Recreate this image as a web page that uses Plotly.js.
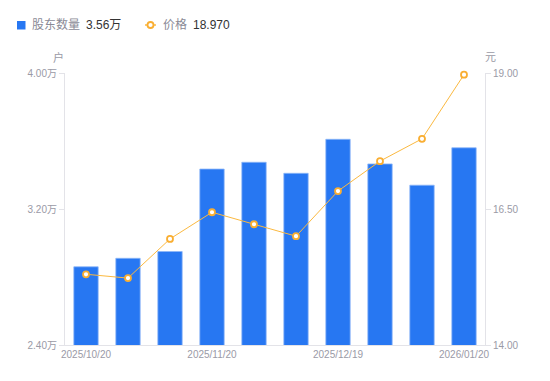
<!DOCTYPE html>
<html>
<head>
<meta charset="utf-8">
<script src="https://cdn.plot.ly/plotly-3.0.1.min.js"></script>
<style>html,body{margin:0;padding:0;background:#fff;}#chart{width:550px;height:381px;}</style>
</head>
<body>
<div id="chart"></div>
<script>
var dates = ["2025/10/20","2025/10/31","2025/11/10","2025/11/20","2025/11/28","2025/12/10","2025/12/19","2025/12/31","2026/01/09","2026/01/20"];
var holders = [2.86, 2.91, 2.95, 3.435, 3.475, 3.41, 3.61, 3.465, 3.34, 3.56];
var prices = [15.30, 15.23, 15.95, 16.44, 16.22, 16.00, 16.83, 17.38, 17.79, 18.97];
var xTickLabels = ["2025/10/20","2025/11/20","2025/12/19","2026/01/20"];
var leftTicks = [2.40, 3.20, 4.00];
var rightTicks = [14.00, 16.50, 19.00];

var font = "'Liberation Sans', Arial, 'Noto Sans CJK SC', sans-serif";
var grey = "#9a9aa6";
var barColor = "#2777f2";
var lineColor = "#fbb940";
var lastH = holders[holders.length-1].toFixed(2) + "万";
var lastP = prices[prices.length-1].toFixed(3);

// pixel helpers for decoration positions (plot area 65..485 x, 73..345 y)
function px(x){ return (x - 65) / 420; }
function py(y){ return (345 - y) / 272; }

var traces = [
  {
    type: "bar", x: dates, y: holders, name: "股东数量",
    marker: {color: barColor, line: {color: "#8db6f7", width: 0.8}}, yaxis: "y", hoverinfo: "skip"
  },
  {
    type: "scatter", mode: "lines+markers", x: dates, y: prices, yaxis: "y2",
    name: "价格", cliponaxis: false,
    line: {color: lineColor, width: 1},
    marker: {symbol: "circle", size: 6, color: "#ffffff", line: {color: "#f9ae32", width: 1.8}},
    hoverinfo: "skip"
  }
];

var ann = function(text, x, y, color, size, anchor){
  return {text: text, xref: "paper", yref: "paper", x: px(x), y: py(y), xanchor: anchor || "left", yanchor: "middle",
          showarrow: false, font: {family: font, size: size, color: color}};
};

var layout = {
  width: 550, height: 381,
  margin: {l: 65, r: 65, t: 73, b: 36},
  paper_bgcolor: "#fff", plot_bgcolor: "#fff",
  font: {family: font, size: 10, color: grey},
  bargap: 0.42,
  showlegend: false,
  xaxis: {
    type: "category", range: [-0.5, dates.length - 0.5], tickmode: "array", tickvals: xTickLabels, ticktext: xTickLabels,
    showline: true, linecolor: "#e3e3e8", linewidth: 1, showgrid: false, zeroline: false,
    ticks: "", tickfont: {size: 10, color: grey}, fixedrange: true
  },
  yaxis: {
    range: [2.4, 4.0], tickmode: "array", tickvals: leftTicks,
    ticktext: leftTicks.map(function(v){return v.toFixed(2) + "万";}),
    showline: true, linecolor: "#e3e3e8", showgrid: false, zeroline: false,
    ticks: "outside", ticklen: 5, tickcolor: "#e3e3e8",
    tickfont: {size: 10, color: grey}
  },
  yaxis2: {
    range: [14, 19], overlaying: "y", side: "right", tickmode: "array", tickvals: rightTicks,
    ticktext: rightTicks.map(function(v){return v.toFixed(2);}),
    showline: true, linecolor: "#e3e3e8", showgrid: false, zeroline: false,
    ticks: "outside", ticklen: 5, tickcolor: "#e3e3e8",
    tickfont: {size: 10, color: grey}
  },
  shapes: [
    {type: "rect", xref: "paper", yref: "paper", x0: px(17), x1: px(25.5), y0: py(29.5), y1: py(21),
     fillcolor: barColor, line: {width: 0}},
    {type: "line", xref: "paper", yref: "paper", x0: px(145), x1: px(156), y0: py(25), y1: py(25),
     line: {color: lineColor, width: 1.5}},
    {type: "circle", xref: "paper", yref: "paper", x0: px(147.5), x1: px(153.5), y0: py(28), y1: py(22),
     fillcolor: "#ffffff", line: {color: "#f9ae32", width: 1.8}}
  ],
  annotations: [
    ann("股东数量", 30, 25, "#8a8a96", 12),
    ann(lastH, 84, 25, "#333333", 12),
    ann("价格", 161, 25, "#8a8a96", 12),
    ann(lastP, 191, 25, "#333333", 12),
    ann("户", 58.5, 57, grey, 11, "center"),
    ann("元", 490.5, 57, grey, 11, "center")
  ]
};

Plotly.newPlot("chart", traces, layout, {staticPlot: true, displayModeBar: false});
</script>
</body>
</html>
